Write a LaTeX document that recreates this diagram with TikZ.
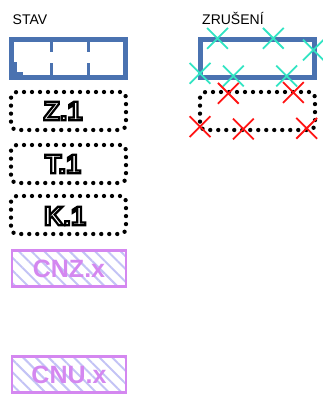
\documentclass[tikz,border=0pt]{standalone}
\usepackage{fontspec}
\setmainfont{Liberation Sans}
\usetikzlibrary{shapes.misc,patterns.meta}
\definecolor{boxblue}{RGB}{74,114,176}
\definecolor{cnpink}{RGB}{212,135,240}
\definecolor{hatchc}{RGB}{195,195,245}
\definecolor{xcyan}{RGB}{50,228,195}
\definecolor{xred}{RGB}{255,20,20}
\newcommand\outlinetext[1]{{\color{white}\special{pdf:literal direct 2 Tr 2.2 w 0 G}#1\special{pdf:literal direct 0 Tr}}}
\begin{document}
\begin{tikzpicture}[x=1pt,y=-1pt,
  bluebox/.style={draw=boxblue, line width=4.5pt, minimum width=114pt, minimum height=38pt, inner sep=0pt},
  dotbox/.style={draw=black, line width=4.3pt, line cap=round, dash pattern=on 0pt off 8pt, rounded corners=6pt, minimum width=115pt, minimum height=38pt, inner sep=0pt},
  outl/.style={font=\bfseries\fontsize{27}{27}\selectfont, inner sep=0pt},
  cnbox/.style={draw=cnpink, line width=2.5pt, minimum width=114pt, minimum height=36pt, inner sep=0pt,
    pattern={Lines[angle=-45, distance=9pt, line width=2pt]}, pattern color=hatchc,
    text=cnpink, font=\bfseries\fontsize{25}{25}\selectfont},
  lbl/.style={anchor=base west, inner sep=0pt, font=\fontsize{14}{14}\selectfont},
  xc/.style={cross out, draw=xcyan, line width=1.8pt, minimum size=19pt, inner sep=0pt},
  xr/.style={cross out, draw=xred, line width=1.8pt, minimum size=19pt, inner sep=0pt},
  divider/.style={fill=boxblue}
]
\useasboundingbox (0,0) rectangle (323,398);
% labels
\node[lbl] (stav) at (12.5,25) {STAV};
\node[lbl] (zrus) at (202,25) {ZRUŠENÍ};
% left blue box
\node[bluebox] (b1) at (68.5,58.5) {};
\fill[divider] (49.5,40) rectangle (52.5,52);
\fill[divider] (49.5,63) rectangle (52.5,77);
\fill[divider] (86.5,40) rectangle (89.5,52);
\fill[divider] (86.5,63) rectangle (89.5,77);
\fill[divider] (13,62) rectangle (16.5,77);
\fill[divider] (13,72) rectangle (23,77);
% dotted boxes
\node[dotbox] (z1) at (68.5,111) {};
\node[outl] (z1t) at (63,111) {\outlinetext{Z.1}};
\node[dotbox] (t1) at (68.5,164) {};
\node[outl] (t1t) at (63,164) {\outlinetext{T.1}};
\node[dotbox] (k1) at (68.5,215) {};
\node[outl] (k1t) at (65,216) {\outlinetext{K.1}};
% hatched boxes
\node[cnbox] (cnz) at (69,268.5) {CNZ.x};
\node[cnbox] (cnu) at (69,374.5) {CNU.x};
% right side
\node[bluebox] (b2) at (257.5,58.5) {};
\node[dotbox] (z2) at (257.5,111) {};
\node[xc] (c1) at (217.5,38.3) {};
\node[xc] (c2) at (273.3,38.3) {};
\node[xc] (c3) at (313.3,50) {};
\node[xc] (c4) at (200,73.3) {};
\node[xc] (c5) at (233.3,76) {};
\node[xc] (c6) at (286.7,76) {};
\node[xr] (r1) at (228.3,93.3) {};
\node[xr] (r2) at (293.3,92.5) {};
\node[xr] (r3) at (200,126.7) {};
\node[xr] (r4) at (243.3,129) {};
\node[xr] (r5) at (306.7,128.3) {};
\end{tikzpicture}
\end{document}
